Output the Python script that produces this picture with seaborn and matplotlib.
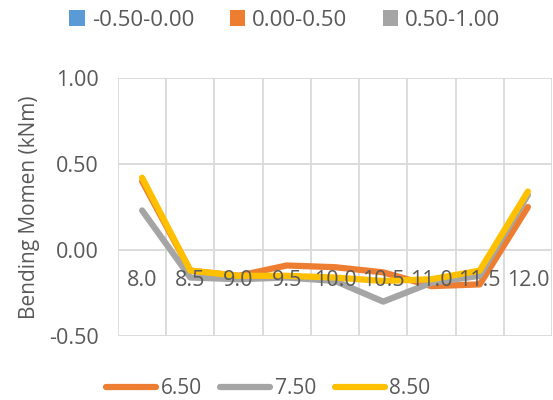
import matplotlib
matplotlib.use("Agg")
import matplotlib.pyplot as plt
import seaborn as sns
import pandas as pd
from matplotlib.lines import Line2D
from matplotlib.patches import Patch

categories = ["8.0", "8.5", "9.0", "9.5", "10.0", "10.5", "11.0", "11.5", "12.0"]
s650 = [0.40, -0.12, -0.15, -0.09, -0.10, -0.13, -0.21, -0.20, 0.25]
s750 = [0.23, -0.16, -0.17, -0.16, -0.18, -0.30, -0.19, -0.15, 0.32]
s850 = [0.42, -0.12, -0.15, -0.15, -0.16, -0.18, -0.17, -0.12, 0.34]
series_names = ["6.50", "7.50", "8.50"]
band_labels = ["-0.50-0.00", "0.00-0.50", "0.50-1.00"]
y_ticks = [-0.5, 0.0, 0.5, 1.0]

colors = {"6.50": "#ED7D31", "7.50": "#A5A5A5", "8.50": "#FFC000"}
band_colors = ["#5B9BD5", "#ED7D31", "#A5A5A5"]
text_color = "#595959"
grid_color = "#D9D9D9"

sns.set_theme(style="white")
plt.rcParams["font.family"] = ["Open Sans", "DejaVu Sans"]

rows = []
for name, vals in zip(series_names, [s650, s750, s850]):
    for i, v in enumerate(vals):
        rows.append({"pos": i, "value": v, "series": name})
df = pd.DataFrame(rows)

fig = plt.figure(figsize=(5.53, 4.0), dpi=100)
ax = fig.add_axes([118/553, 1-336/400, 434/553, (336-78)/400])

sns.lineplot(data=df, x="pos", y="value", hue="series", palette=colors,
             linewidth=4.5, ax=ax, legend=False, sort=False)

ax.set_xlim(-0.5, len(categories) - 0.5)
ax.set_ylim(-0.5, 1.0)
ax.set_yticks(y_ticks)
ax.set_yticklabels([f"{t:.2f}" for t in y_ticks], color=text_color, fontsize=15.5)
ax.set_xticks([i - 0.5 for i in range(len(categories) + 1)], minor=True)
ax.set_xticks([])
ax.tick_params(axis="x", which="both", length=0)
ax.tick_params(axis="y", length=0, pad=14)
for s in ax.spines.values():
    s.set_visible(False)
ax.grid(False)
ax.grid(True, axis="y", which="major", color=grid_color, linewidth=1.3)
ax.grid(True, axis="x", which="minor", color=grid_color, linewidth=1.3)
ax.set_axisbelow(True)
ax.set_xlabel("")
ax.set_ylabel("Bending Momen (kNm)", color=text_color, fontsize=15, labelpad=6)

# category labels sit at the zero line, drawn above the lines
for i, c in enumerate(categories):
    ax.text(i, -0.18, c, ha="center", va="center", color=text_color,
            fontsize=15.5, zorder=10)

# top legend (bands)
band_handles = [Patch(facecolor=c, edgecolor="none") for c in band_colors]
fig.legend(band_handles, band_labels, loc="center", bbox_to_anchor=(0.515, 1-20/400),
           ncol=3, frameon=False, fontsize=16, labelcolor=text_color,
           handlelength=0.7, handleheight=0.7, handletextpad=0.3, columnspacing=1.6)

# bottom legend (series)
line_handles = [Line2D([0], [0], color=colors[n], linewidth=4.5, solid_capstyle="round") for n in series_names]
fig.legend(line_handles, series_names, loc="center", bbox_to_anchor=(0.485, 1-389/400),
           ncol=3, frameon=False, fontsize=15, labelcolor=text_color,
           handlelength=2.4, handletextpad=0.2, columnspacing=0.9)

fig.savefig("out.png", dpi=100)
